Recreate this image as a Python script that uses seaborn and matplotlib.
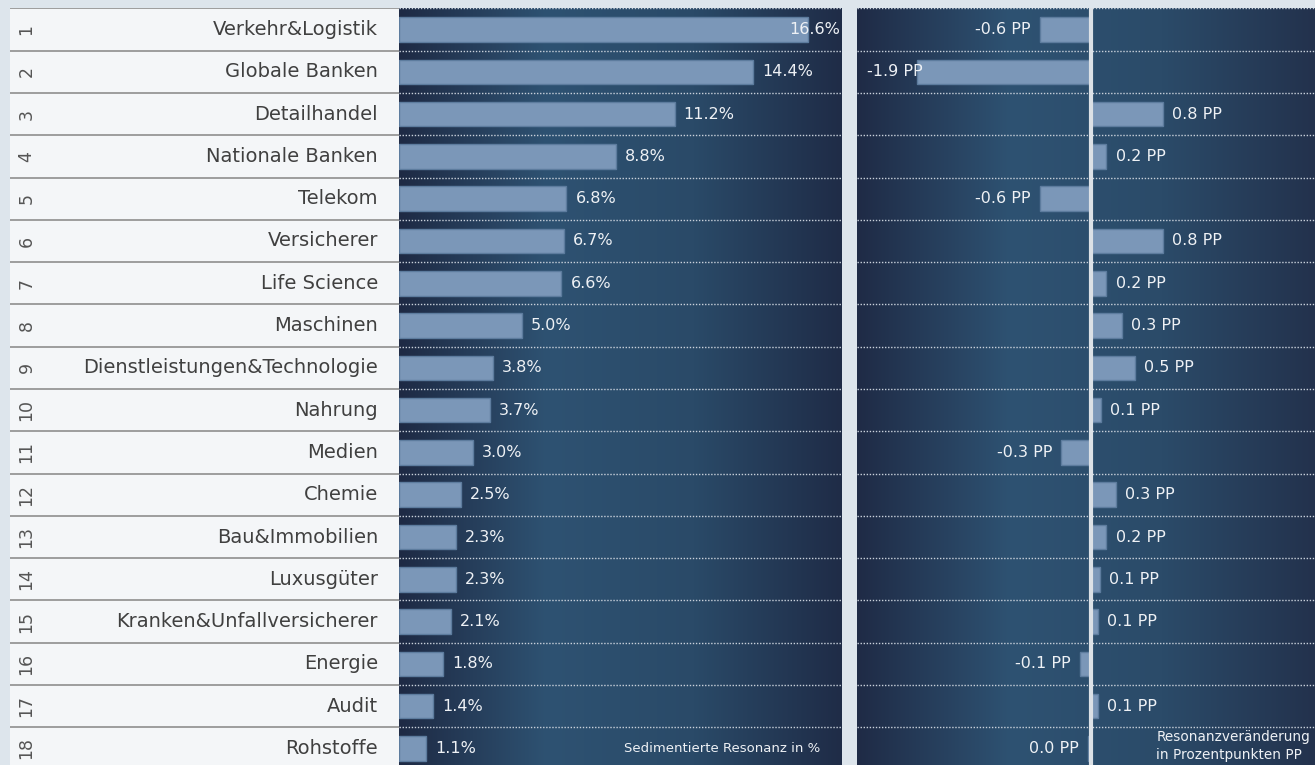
import numpy as np
import pandas as pd
import seaborn as sns
import matplotlib.pyplot as plt
from matplotlib.colors import LinearSegmentedColormap

# ranking data (Resonanz je Branche)
rang = list(range(1, 19))
branchen = ["Verkehr&Logistik", "Globale Banken", "Detailhandel", "Nationale Banken",
            "Telekom", "Versicherer", "Life Science", "Maschinen",
            "Dienstleistungen&Technologie", "Nahrung", "Medien", "Chemie",
            "Bau&Immobilien", "Luxusgüter", "Kranken&Unfallversicherer",
            "Energie", "Audit", "Rohstoffe"]
resonanz = [16.6, 14.4, 11.2, 8.8, 6.8, 6.7, 6.6, 5.0, 3.8, 3.7,
            3.0, 2.5, 2.3, 2.3, 2.1, 1.8, 1.4, 1.1]
veraenderung = [-0.56, -1.91, 0.79, 0.17, -0.56, 0.79, 0.17, 0.34, 0.48, 0.11,
                -0.33, 0.27, 0.17, 0.10, 0.08, -0.12, 0.08, -0.03]

df = pd.DataFrame({"rang": rang, "branche": branchen,
                   "resonanz": resonanz, "veraenderung": veraenderung})

sns.set_style("white")
plt.rcParams["font.family"] = ["DejaVu Sans"]

BAR = "#7b97b8"
EDGE = "#5d7c9e"
TXT = "#eef1f5"
W, H = 1315, 765

fig = plt.figure(figsize=(W / 100, H / 100), dpi=100, facecolor="#dde5ec")

top, rows_h = 8.4, 761.2
def ax_at(x0, x1):
    return fig.add_axes([x0 / W, 1 - (top + rows_h) / H, (x1 - x0) / W, rows_h / H])

ax_tab = ax_at(10, 399)
ax_mid = ax_at(399, 842)
ax_chg = ax_at(857, 1315)

def gradient(ax, cols):
    cmap = LinearSegmentedColormap.from_list("bg", cols)
    g = np.linspace(0, 1, 256).reshape(1, -1)
    ax.imshow(g, aspect="auto", cmap=cmap, extent=(0, 1, 0, 1),
              transform=ax.transAxes, zorder=0)

# --- table with rank and branch names
ax_tab.set_facecolor("#f4f6f8")
ax_tab.set_xlim(0, 389)
ax_tab.set_ylim(17.5, -0.5)
for i, row in df.iterrows():
    ax_tab.text(16.5, i, str(row["rang"]), rotation=90, ha="center", va="center",
                fontsize=12.5, color="#555555")
    ax_tab.text(368, i, row["branche"], ha="right", va="center",
                fontsize=14, color="#404040")
for y in np.arange(-0.5, 17.5, 1.0):
    ax_tab.axhline(y, color="#8e8e8e", lw=1.2)
ax_tab.set_xticks([])
ax_tab.set_yticks([])
sns.despine(ax=ax_tab, left=True, bottom=True)

# --- sedimentierte Resonanz
gradient(ax_mid, ["#1e2a44", "#2e5272", "#2a4a68", "#1f2c47"])
sns.barplot(data=df, x="resonanz", y="branche", orient="h", color=BAR,
            saturation=1, width=0.58, edgecolor=EDGE, linewidth=1,
            ax=ax_mid, zorder=2)
ax_mid.set_xlim(0, 18)
for i, v in enumerate(resonanz):
    if v > 16:
        ax_mid.annotate(f"{v:.1f}%", (18, i), xytext=(-1, 0), textcoords="offset points",
                        ha="right", va="center", fontsize=11.5, color=TXT, zorder=4)
    else:
        ax_mid.annotate(f"{v:.1f}%", (v, i), xytext=(6.5, 0), textcoords="offset points",
                        ha="left", va="center", fontsize=11.5, color=TXT, zorder=4)
ax_mid.text(0.95, 17, "Sedimentierte Resonanz in %", transform=ax_mid.get_yaxis_transform(),
            ha="right", va="center", fontsize=9.5, color=TXT)

# --- Resonanzveränderung
gradient(ax_chg, ["#1f2b46", "#2e5272", "#2b4b69", "#23324d"])
sns.barplot(data=df, x="veraenderung", y="branche", orient="h", color=BAR,
            saturation=1, width=0.58, edgecolor=EDGE, linewidth=1,
            ax=ax_chg, zorder=2)
ax_chg.set_xlim(-2.57, 2.46)
ax_chg.axvline(0, color="#dce1e6", lw=3, zorder=3)
for i, v in enumerate(veraenderung):
    lab = f"{v:.1f} PP".replace("-0.0", "0.0")
    if v < -1.5:
        ax_chg.annotate(lab, (-2.57, i), xytext=(7, 0), textcoords="offset points",
                        ha="left", va="center", fontsize=11.5, color=TXT, zorder=4)
    elif v < 0:
        ax_chg.annotate(lab, (v, i), xytext=(-6.5, 0), textcoords="offset points",
                        ha="right", va="center", fontsize=11.5, color=TXT, zorder=4)
    else:
        ax_chg.annotate(lab, (v, i), xytext=(6.5, 0), textcoords="offset points",
                        ha="left", va="center", fontsize=11.5, color=TXT, zorder=4)
ax_chg.text(0.989, 16.95, "Resonanzveränderung\nin Prozentpunkten PP",
            transform=ax_chg.get_yaxis_transform(), ha="right", va="center",
            multialignment="left", fontsize=9.8, color=TXT, linespacing=1.35)

for ax in (ax_mid, ax_chg):
    ax.set_ylim(17.5, -0.5)
    for y in np.arange(-0.5, 17.5, 1.0):
        ax.axhline(y, color="#c9d1db", lw=1, ls=(0, (1, 1.2)), zorder=1)
    ax.set_xlabel("")
    ax.set_ylabel("")
    ax.set_xticks([])
    ax.set_yticks([])
    sns.despine(ax=ax, left=True, bottom=True)

fig.savefig("out.png", dpi=100, facecolor=fig.get_facecolor())
